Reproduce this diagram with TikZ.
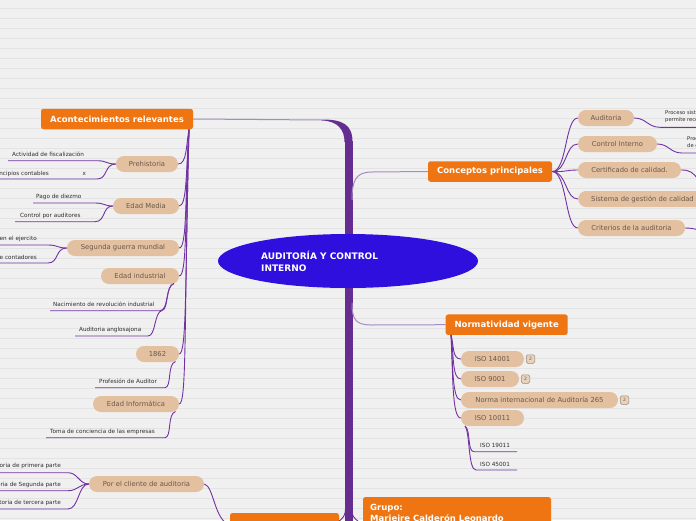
\documentclass[tikz,border=0pt]{standalone}
\usepackage{fontspec}
\setmainfont{DejaVu Sans}
\usetikzlibrary{shapes.geometric}
\definecolor{bg}{HTML}{F0F0F0}
\definecolor{rulecol}{HTML}{E3E3E3}
\definecolor{orng}{HTML}{EE7512}
\definecolor{beige}{HTML}{E3C0A0}
\definecolor{beigetxt}{HTML}{6B5849}
\definecolor{trunkcol}{HTML}{662D91}
\definecolor{conn}{HTML}{7232A3}
\definecolor{lconn}{HTML}{A58AC4}
\definecolor{central}{HTML}{2E0FDD}
\definecolor{leaftxt}{HTML}{2E2E2E}
\definecolor{badgefill}{HTML}{E8D2BC}
\definecolor{badgedraw}{HTML}{9A8878}
\tikzset{
  mainbox/.style={fill=orng, rounded corners=2.5pt, text=white, font=\fontsize{8.5}{10.5}\selectfont\bfseries, inner sep=0pt, minimum height=20.5pt},
  subbox/.style={fill=beige, rounded corners=8pt, text=beigetxt, font=\fontsize{6.8}{8}\selectfont, inner sep=0pt, minimum height=16pt},
  leaf/.style={text=leaftxt, font=\fontsize{5.7}{6.8}\selectfont, inner sep=0pt},
  con/.style={draw=conn, line width=0.9pt},
  lcon/.style={draw=lconn, line width=1pt},
  badge/.style={fill=badgefill, draw=badgedraw, line width=0.5pt, rounded corners=1.5pt, minimum width=8.5pt, minimum height=8.5pt, inner sep=0pt, font=\fontsize{4.5}{5}\selectfont, text=beigetxt}
}
\begin{document}
\begin{tikzpicture}[x=1pt,y=-1pt]
\useasboundingbox (0,0) rectangle (696,520);
\clip (0,0) rectangle (696,520);
\fill[bg] (0,0) rectangle (696,520);
\foreach \yy in {8,18,...,518} \draw[rulecol, line width=0.6pt] (0,\yy) -- (696,\yy);

% trunk
\fill[trunkcol] (322,119.5) .. controls (342,119.5) and (352.5,124) .. (352.5,142) -- (344.5,142) .. controls (344.5,130) and (338,121) .. (322,120.5) -- cycle;
\draw[trunkcol, line width=8pt] (348.5,141) -- (348.5,526);

% orange nodes
\node[mainbox, minimum width=152pt] (acont) at (117,119) {Acontecimientos relevantes};
\node[mainbox, minimum width=124pt] (concep) at (490,171.5) {Conceptos principales};
\node[mainbox, minimum width=122pt] (norm) at (506.7,324.7) {Normatividad vigente};
\node[mainbox, minimum width=109pt, minimum height=24pt] (bottoml) at (284.5,525) {};
\node[mainbox, minimum width=188pt, minimum height=40pt] (grupo) at (457,517) {};
\node[anchor=north west, inner sep=0pt, align=left, text=white, font=\fontsize{8.5}{11}\selectfont\bfseries] (grupotxt) at (370,503.5) {Grupo:\\Marjeire Calderón Leonardo};

% branches from trunk
\coordinate (tk1) at (322,120);
\coordinate (tk2) at (352,200);
\coordinate (tk3) at (352,303);
\coordinate (tk4) at (345.5,508);
\coordinate (tk5) at (351.5,508);
\draw[lcon] (acont.east) -- (tk1);
\draw[lcon] (tk2) .. controls (352,180) and (356,172) .. (372,172) -- (concep.west);
\draw[lcon] (tk3) .. controls (352,320) and (356,325) .. (372,325) -- (norm.west);
\draw[con, draw=trunkcol] (tk4) .. controls (345.5,516) and (343,518) .. (338,522);
\draw[con, draw=trunkcol] (tk5) .. controls (351.5,516) and (354,518) .. (359,522);

% central
\node[ellipse, fill=central, minimum width=260pt, minimum height=54pt, inner sep=0pt] (root) at (348,261) {};
\node[anchor=west, inner sep=0pt, align=left, text=white, font=\fontsize{9}{12}\selectfont\bfseries] (roottxt) at (261,261.5) {AUDITORÍA Y CONTROL\\INTERNO};

% left sub nodes
\node[subbox, minimum width=62pt] (prehist) at (147,164) {Prehistoria};
\node[subbox, minimum width=66pt] (media) at (146,206) {Edad Media};
\node[subbox, minimum width=112pt] (guerra) at (123,248) {Segunda guerra mundial};
\node[subbox, minimum width=78pt] (indust) at (140,276) {Edad industrial};
\node[subbox, minimum width=43pt] (n1862) at (157.5,354) {1862};
\node[subbox, minimum width=86pt] (inform) at (136,404) {Edad Informática};
\node[subbox, minimum width=115pt] (cliente) at (146.5,484) {Por el cliente de auditoria};

\coordinate (ac) at (189,129.5);
\draw[con] (ac) .. controls (186,145) and (187,164) .. (prehist.east);
\draw[con] (ac) .. controls (186,170) and (187,206) .. (media.east);
\draw[con] (ac) .. controls (185,200) and (187,248) .. (guerra.east);
\draw[con] (ac) .. controls (185,220) and (187,276) .. (indust.east);
\draw[con] (ac) .. controls (185,280) and (187,354) .. (n1862.east);
\draw[con] (ac) .. controls (184,320) and (187,404) .. (inform.east);
\draw[con] (cliente.east) .. controls (214,486) and (214,520) .. (bottoml.west);

% Prehistoria leaves
\node[leaf, anchor=base west] (l1) at (12,156.5) {Actividad de fiscalización};
\node[leaf, anchor=base east] (l2) at (49,175) {Principios contables};
\node[leaf, anchor=base west] (l2x) at (82.5,175) {x};
\coordinate (u1a) at (8,160.7);  \coordinate (u1b) at (97,160.7);
\coordinate (u2a) at (0,179);    \coordinate (u2b) at (97,179);
\draw[con] (u1a) -- (u1b) .. controls (107,160.7) and (106,164) .. (prehist.west);
\draw[con] (u2a) -- (u2b) .. controls (108,179) and (104,164) .. (prehist.west);

% Edad Media leaves
\node[leaf, anchor=base west] (l3) at (36,198.5) {Pago de diezmo};
\node[leaf, anchor=base west] (l4) at (20,217) {Control por auditores};
\coordinate (u3a) at (33,203);  \coordinate (u3b) at (95,203);
\coordinate (u4a) at (15,221.7);  \coordinate (u4b) at (95,221.7);
\draw[con] (u3a) -- (u3b) .. controls (105,203) and (104,206) .. (media.west);
\draw[con] (u4a) -- (u4b) .. controls (106,221.7) and (102,206) .. (media.west);

% Segunda guerra leaves
\node[leaf, anchor=base east] (l5) at (37,240.5) {en el ejercito};
\node[leaf, anchor=base east] (l6) at (37,259) {de contadores};
\coordinate (u5a) at (0,245);  \coordinate (u5b) at (48,245);
\coordinate (u6a) at (0,263);  \coordinate (u6b) at (48,263);
\draw[con] (u5a) -- (u5b) .. controls (58,245) and (57,248) .. (guerra.west);
\draw[con] (u6a) -- (u6b) .. controls (59,263) and (55,248) .. (guerra.west);

% Edad industrial leaves
\node[leaf, anchor=base west] (l7) at (53,306) {Nacimiento de revolución industrial};
\node[leaf, anchor=base west] (l8) at (79,331.5) {Auditoria anglosajona};
\coordinate (u7a) at (50,310.7);  \coordinate (u7b) at (160,310.7);
\coordinate (u8a) at (75,336);  \coordinate (u8b) at (148,336);
\coordinate (indE) at (174,283.5);
\draw[con] (u7a) -- (u7b) .. controls (169,310.5) and (165,286) .. (indE);
\draw[con] (u8a) -- (u8b) .. controls (156,336) and (154,312) .. (162,310.5) .. controls (169,309) and (165,286) .. (indE);

% 1862 leaf
\node[leaf, anchor=base west] (l9) at (99,383) {Profesión de Auditor};
\coordinate (u9a) at (95,387.7);  \coordinate (u9b) at (165,387.7);
\coordinate (n62E) at (175.5,361.5);
\draw[con] (u9a) -- (u9b) .. controls (172,387) and (167,364) .. (n62E);

% Edad informatica leaf
\node[leaf, anchor=base west] (l10) at (50,433) {Toma de conciencia de las empresas};
\coordinate (u10a) at (46,437.7);  \coordinate (u10b) at (165,437.7);
\coordinate (infE) at (175.5,411.5);
\draw[con] (u10a) -- (u10b) .. controls (172,437) and (167,414) .. (infE);

% Por el cliente leaves
\node[leaf, anchor=base east] (l11) at (61,467.5) {Auditoria de primera parte};
\node[leaf, anchor=base east] (l12) at (61,486) {Auditoria de Segunda parte};
\node[leaf, anchor=base east] (l13) at (61,504) {Auditoria de tercera parte};
\coordinate (u11a) at (0,472.7);  \coordinate (u11b) at (68,472.7);
\coordinate (u12a) at (0,490.7);  \coordinate (u12b) at (68,490.7);
\coordinate (u13a) at (0,509);  \coordinate (u13b) at (68,509);
\draw[con] (u11a) -- (u11b) .. controls (78,472.7) and (79,484) .. (cliente.west);
\draw[con] (u12a) -- (u12b) .. controls (78,490.7) and (79,484) .. (cliente.west);
\draw[con] (u13a) -- (u13b) .. controls (79,509) and (78,484) .. (cliente.west);

% Conceptos children
\node[subbox, minimum width=56pt] (audit) at (606,118) {Auditoria};
\node[subbox, minimum width=79pt] (control) at (617.5,144) {Control Interno};
\node[subbox, minimum width=103pt] (certif) at (629.5,170) {Certificado de calidad.};
\node[subbox, anchor=west, inner xsep=13pt] (sistema) at (578,199) {Sistema de gestión de calidad};
\node[subbox, minimum width=107pt] (criter) at (631.5,228) {Criterios de la auditoria};
\foreach \n in {audit,control,certif,sistema,criter}{
  \draw[con] (concep.east) .. controls (567,172) and (565,0|-\n.west) .. (\n.west);
}
\node[leaf, anchor=north west, align=left, font=\fontsize{5.2}{7}\selectfont] (d1) at (665,110.5) {Proceso sistemático\\permite recolectar};
\node[leaf, anchor=north west, align=left, font=\fontsize{5.2}{7}\selectfont] (d2) at (687,136.5) {Proceso\\de control};
\coordinate (d1a) at (660,127.3); \coordinate (d1b) at (698,127.3);
\coordinate (d2a) at (682,153); \coordinate (d2b) at (698,153);
\coordinate (d3) at (699,180);
\coordinate (d4) at (699,230);
\draw[con] (audit.east) .. controls (646,118) and (648,127.3) .. (d1a) -- (d1b);
\draw[con] (control.east) .. controls (669,144) and (670,153) .. (d2a) -- (d2b);
\draw[con] (certif.east) .. controls (690,170) and (692,172) .. (d3);
\draw[con] (criter.east) .. controls (690,228) and (693,228.5) .. (d4);

% Normatividad children
\node[subbox, minimum width=63pt] (iso14) at (492.5,359) {ISO 14001};
\node[subbox, minimum width=58pt] (iso9) at (490,379) {ISO 9001};
\node[subbox, minimum width=157pt] (nia) at (539.5,400) {Norma internacional de Auditoría 265};
\node[subbox, minimum width=63pt] (iso10) at (492.5,418) {ISO 10011};
\node[badge] (b1) at (530.5,359) {2};
\node[badge] (b2) at (525.5,379) {2};
\node[badge] (b3) at (624.5,400) {2};
\coordinate (nsw) at (451,335);
\draw[con] (nsw) .. controls (454,345) and (452,359) .. (iso14.west);
\draw[con] (nsw) .. controls (454,355) and (452,379) .. (iso9.west);
\draw[con] (nsw) .. controls (453,365) and (452,400) .. (nia.west);
\draw[con] (nsw) .. controls (453,375) and (452,418) .. (iso10.west);

\node[leaf, anchor=base west] (i1) at (480,447.5) {ISO 19011};
\node[leaf, anchor=base west] (i2) at (480,466.5) {ISO 45001};
\coordinate (i10s) at (465,426);
\coordinate (i1a) at (474,451.7); \coordinate (i1b) at (517,451.7);
\coordinate (i2a) at (476,470); \coordinate (i2b) at (517,470);
\draw[con] (i10s) .. controls (471,430) and (467,451.7) .. (i1a) -- (i1b);
\draw[con] (i10s) .. controls (470,432) and (468,470) .. (i2a) -- (i2b);
\end{tikzpicture}
\end{document}
